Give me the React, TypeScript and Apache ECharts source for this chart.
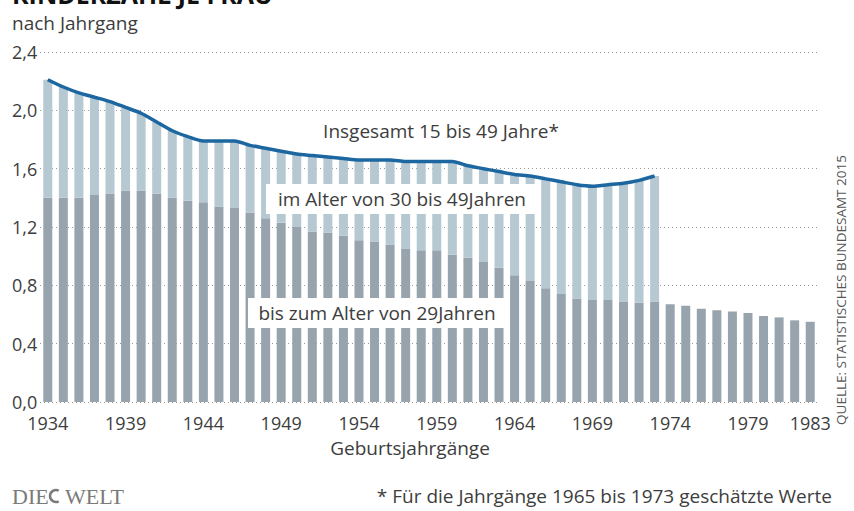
import React, { useEffect, useRef } from "react";
import * as echarts from "echarts";

const years: string[] = [
  "1934", "1935", "1936", "1937", "1938", "1939", "1940", "1941", "1942", "1943",
  "1944", "1945", "1946", "1947", "1948", "1949", "1950", "1951", "1952", "1953",
  "1954", "1955", "1956", "1957", "1958", "1959", "1960", "1961", "1962", "1963",
  "1964", "1965", "1966", "1967", "1968", "1969", "1970", "1971", "1972", "1973",
  "1974", "1975", "1976", "1977", "1978", "1979", "1980", "1981", "1982", "1983",
];

// Kinder je Frau bis zum Alter von 29 Jahren (1934–1983)
const under30: number[] = [
  1.40, 1.40, 1.40, 1.42, 1.43, 1.45, 1.45, 1.43, 1.40, 1.38,
  1.37, 1.34, 1.33, 1.30, 1.26, 1.23, 1.20, 1.17, 1.16, 1.14,
  1.11, 1.10, 1.08, 1.05, 1.04, 1.04, 1.01, 0.99, 0.96, 0.92,
  0.87, 0.83, 0.78, 0.74, 0.71, 0.70, 0.70, 0.69, 0.68, 0.69,
  0.67, 0.66, 0.64, 0.63, 0.62, 0.61, 0.59, 0.58, 0.56, 0.55,
];

// Insgesamt 15 bis 49 Jahre (1934–1973)
const total: number[] = [
  2.21, 2.16, 2.12, 2.09, 2.06, 2.02, 1.98, 1.92, 1.86, 1.82,
  1.79, 1.79, 1.79, 1.76, 1.74, 1.72, 1.70, 1.69, 1.68, 1.67,
  1.66, 1.66, 1.66, 1.65, 1.65, 1.65, 1.65, 1.62, 1.60, 1.58,
  1.56, 1.55, 1.53, 1.51, 1.49, 1.48, 1.49, 1.50, 1.52, 1.55,
];

const yTicks: number[] = [0, 0.4, 0.8, 1.2, 1.6, 2.0, 2.4];

const FONT = "'Open Sans', sans-serif";
const TEXT = "#3d3d3d";
const TS = 19;

export default function App() {
  const ref = useRef<HTMLDivElement>(null);

  useEffect(() => {
    if (!ref.current) return;
    const chart = echarts.init(ref.current, null, { renderer: "svg" });

    const over30 = years.map((_, i) =>
      i < total.length ? +(total[i] - under30[i]).toFixed(3) : "-"
    );
    const lineData = years.map((_, i) => (i < total.length ? total[i] : "-"));

    chart.setOption({
      animation: false,
      backgroundColor: "#ffffff",
      textStyle: { fontFamily: FONT },
      grid: { left: 40, right: 36, top: 52, bottom: 109, containLabel: false },
      xAxis: {
        type: "category",
        data: years,
        boundaryGap: true,
        axisLine: { show: false },
        axisTick: { show: false },
        axisLabel: {
          interval: (i: number) => i % 5 === 0 || i === years.length - 1,
          color: TEXT,
          fontSize: 18,
          fontFamily: FONT,
          margin: 12,
        },
      },
      yAxis: {
        type: "value",
        min: yTicks[0],
        max: yTicks[yTicks.length - 1],
        interval: 0.4,
        axisLine: { show: false },
        axisTick: { show: false },
        axisLabel: {
          color: TEXT,
          fontSize: 18,
          fontFamily: FONT,
          align: "left",
          margin: 28,
          formatter: (v: number) => v.toFixed(1).replace(".", ","),
        },
        splitLine: {
          show: true,
          lineStyle: { type: [1, 3], color: "#9a9a9a", width: 1 },
        },
      },
      series: [
        {
          name: "bis zum Alter von 29Jahren",
          type: "bar",
          stack: "k",
          data: under30,
          barWidth: 9,
          itemStyle: { color: "#97a4ad" },
        },
        {
          name: "im Alter von 30 bis 49Jahren",
          type: "bar",
          stack: "k",
          data: over30,
          barWidth: 9,
          itemStyle: { color: "#b6c8d2" },
        },
        {
          name: "Insgesamt 15 bis 49 Jahre*",
          type: "line",
          data: lineData,
          smooth: 0.25,
          symbol: "none",
          lineStyle: { color: "#1d67a1", width: 3.5 },
          z: 5,
        },
      ],
      graphic: [
        {
          type: "text",
          left: 12,
          top: -19,
          style: {
            text: "KINDERZAHL JE FRAU",
            fontSize: 25,
            fontWeight: "bold",
            fontFamily: FONT,
            fill: "#111111",
          },
        },
        {
          type: "text",
          x: 12,
          y: 23,
          style: {
            text: "nach Jahrgang",
            fontSize: TS,
            fontFamily: FONT,
            fill: TEXT,
            verticalAlign: "middle",
          },
        },
        {
          type: "text",
          x: 441,
          y: 131,
          z: 10,
          style: {
            text: "Insgesamt 15 bis 49 Jahre*",
            fontSize: TS,
            fontFamily: FONT,
            fill: TEXT,
            align: "center",
            verticalAlign: "middle",
          },
        },
        {
          type: "rect",
          z: 10,
          shape: { x: 266, y: 184, width: 271, height: 30 },
          style: { fill: "#ffffff" },
        },
        {
          type: "text",
          x: 402,
          y: 199,
          z: 11,
          style: {
            text: "im Alter von 30 bis 49Jahren",
            fontSize: TS,
            fontFamily: FONT,
            fill: TEXT,
            align: "center",
            verticalAlign: "middle",
          },
        },
        {
          type: "rect",
          z: 10,
          shape: { x: 248, y: 298, width: 262, height: 30 },
          style: { fill: "#ffffff" },
        },
        {
          type: "text",
          x: 377,
          y: 313,
          z: 11,
          style: {
            text: "bis zum Alter von 29Jahren",
            fontSize: TS,
            fontFamily: FONT,
            fill: TEXT,
            align: "center",
            verticalAlign: "middle",
          },
        },
        {
          type: "text",
          x: 410,
          y: 448,
          style: {
            text: "Geburtsjahrgänge",
            fontSize: TS,
            fontFamily: FONT,
            fill: TEXT,
            align: "center",
            verticalAlign: "middle",
          },
        },
        {
          type: "text",
          x: 841,
          y: 290,
          rotation: Math.PI / 2,
          style: {
            text: "QUELLE: STATISTISCHES BUNDESAMT 2015",
            fontSize: 13.5,
            fontFamily: FONT,
            fill: "#555555",
            align: "center",
            verticalAlign: "middle",
          },
        },
        {
          type: "text",
          x: 832,
          y: 496,
          style: {
            text: "* Für die Jahrgänge 1965 bis 1973 geschätzte Werte",
            fontSize: TS,
            fontFamily: FONT,
            fill: TEXT,
            align: "right",
            verticalAlign: "middle",
          },
        },
        {
          type: "text",
          x: 12,
          y: 496,
          style: {
            text: "DIE",
            fontSize: 22,
            fontFamily: "'Liberation Serif', serif",
            fill: "#7a7a7a",
            verticalAlign: "middle",
          },
        },
        {
          type: "arc",
          shape: { cx: 56, cy: 496, r: 6, startAngle: Math.PI * 0.35, endAngle: Math.PI * 1.65 },
          style: { stroke: "#7a7a7a", lineWidth: 2.5, fill: "none" },
        },
        {
          type: "text",
          x: 65,
          y: 496,
          style: {
            text: "WELT",
            fontSize: 22,
            fontFamily: "'Liberation Serif', serif",
            fill: "#7a7a7a",
            verticalAlign: "middle",
          },
        },
      ],
    });

    return () => chart.dispose();
  }, []);

  return (
    <div
      ref={ref}
      style={{ position: "fixed", left: 0, top: 0, width: 854, height: 511 }}
    />
  );
}
